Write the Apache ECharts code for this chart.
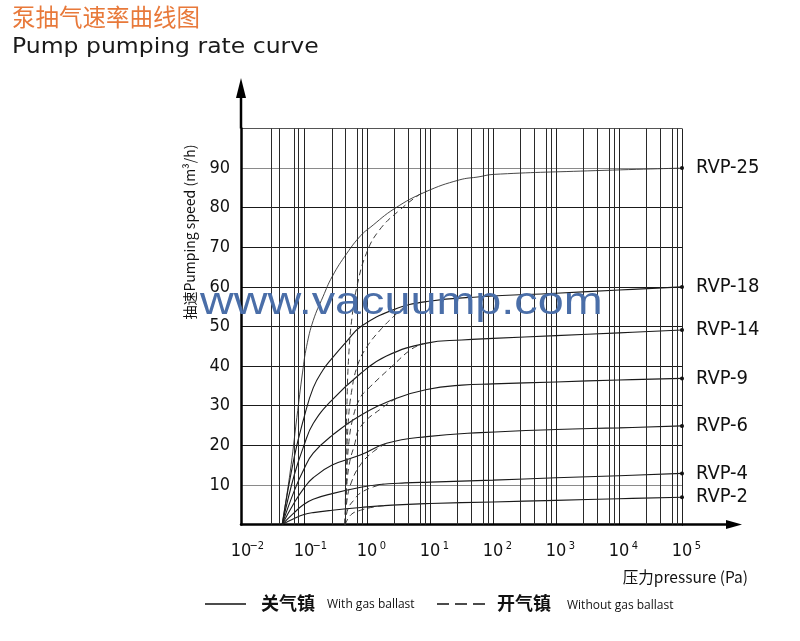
<!DOCTYPE html>
<html><head><meta charset="utf-8">
<script src="https://cdn.jsdelivr.net/npm/echarts@6/dist/echarts.min.js"></script>
<style>html,body{margin:0;padding:0;background:#fff}#c{width:800px;height:641px}</style>
</head><body><div id="c"></div>
<script>
// ---- data: [pressure (Pa), pumping speed (m3/h)] ----
const rvp25Solid = [[0.045,0],[0.06,13],[0.077,27],[0.095,38.5],[0.11,45],[0.14,51.5],[0.2,57.5],[0.28,62.6],[0.48,68.5],[0.8,73],[1.12,75],[2.75,79.8],[8.5,84],[29,87],[60,87.8],[100,88.4],[3200,89.3],[100000,90]];
const rvp18Solid = [[0.045,0],[0.07,17],[0.1,27],[0.14,34.5],[0.2,39],[0.28,42],[0.48,46.3],[0.8,50],[2.6,54.2],[8.9,56.3],[63,57.5],[1000,58.4],[10000,59.2],[100000,60]];
const rvp14Solid = [[0.045,0],[0.07,12.5],[0.1,20],[0.14,25.5],[0.28,31.5],[0.8,38.2],[2,42.5],[8.9,45.8],[32,46.6],[100,47],[1000,47.7],[10000,48.4],[100000,49.1]];
const rvp9Solid  = [[0.045,0],[0.07,8.5],[0.1,14],[0.14,18],[0.28,22.5],[0.8,27.6],[2.95,31.9],[8.9,34.1],[32,35.2],[100,35.5],[1000,36],[10000,36.5],[100000,36.9]];
const rvp6Solid  = [[0.045,0],[0.07,5.5],[0.1,9.2],[0.14,11.8],[0.28,15],[0.8,17.6],[2.04,20.5],[8.9,22.2],[63,23.2],[1000,24],[10000,24.4],[100000,24.9]];
const rvp4Solid  = [[0.045,0],[0.07,3],[0.1,5.1],[0.14,6.4],[0.28,7.8],[0.8,9.4],[1.58,10.1],[4,10.5],[10,10.7],[100,11.2],[1000,11.8],[10000,12.3],[100000,12.9]];
const rvp2Solid  = [[0.045,0],[0.07,1.5],[0.1,2.5],[0.14,3],[0.28,3.6],[0.8,4.3],[2.5,4.9],[10,5.3],[100,5.7],[1000,6.1],[10000,6.5],[100000,6.9]];

const rvp25Dashed = [[0.45,0],[0.46,15],[0.48,30],[0.51,42],[0.575,52],[0.69,60],[0.98,68.5],[1.58,74.4],[3.3,79.4],[7.2,83.6],[8.9,84.2]];
const rvp18Dashed = [[0.45,0],[0.47,12],[0.5,25],[0.575,34],[0.72,40.5],[1,44.9],[1.62,49.1],[2.63,52.5],[3.8,54.8]];
const rvp14Dashed = [[0.45,0],[0.47,10],[0.51,20],[0.6,27],[0.78,32],[1,34],[2.63,40.3],[5,44.2],[7.8,45.7]];
const rvp9Dashed  = [[0.45,0],[0.47,8],[0.52,15],[0.63,20],[0.79,24.7],[1.82,29.7],[2.95,31.9]];
const rvp6Dashed  = [[0.45,0],[0.48,6],[0.56,10.5],[0.78,15],[1.26,18.4],[2.04,20.5]];
const rvp4Dashed  = [[0.45,0],[0.5,4],[0.63,6.3],[0.78,7.9],[1.26,9.5],[1.82,10.2]];
const rvp2Dashed  = [[0.45,0],[0.56,2.5],[0.79,3.6],[1.26,4.4],[2,4.8]];

const modelNames = ['RVP-25','RVP-18','RVP-14','RVP-9','RVP-6','RVP-4','RVP-2'];
const solidCurves = [rvp25Solid, rvp18Solid, rvp14Solid, rvp9Solid, rvp6Solid, rvp4Solid, rvp2Solid];
const dashedCurves = [rvp25Dashed, rvp18Dashed, rvp14Dashed, rvp9Dashed, rvp6Dashed, rvp4Dashed, rvp2Dashed];

const xMinPa = 0.01, xMaxPa = 100000;
const yMin = 0, yMax = 100, yStep = 10;
// extra vertical grid lines inside each decade (multiples of the decade)
const gridMultipliers = [2.75, 4.5, 6.9, 8.4];

// ---- styling ----
const NARROW = '"Liberation Sans Narrow","DejaVu Sans Condensed","Arial Narrow",sans-serif';
const G = {left: 241, right: 118, top: 128.5, bottom: 116.5};

const minorGrid = [];
for (let d = -2; d < 5; d++) for (const m of gridMultipliers) minorGrid.push({xAxis: m * Math.pow(10, d)});

const series = [];
solidCurves.forEach((arr, i) => {
  series.push({
    type: 'line', name: modelNames[i], data: arr, smooth: 0.45,
    showSymbol: false, silent: true, z: 4,
    lineStyle: {color: i === 0 ? '#333' : '#1a1a1a', width: i === 0 ? 0.9 : 1.1},
    endLabel: {show: true, formatter: '{a}', distance: 14, fontSize: 20, fontFamily: NARROW, color: '#111'},
    markPoint: {symbol: 'circle', symbolSize: 4, itemStyle: {color: '#111'}, label: {show: false}, silent: true,
      data: [{coord: arr[arr.length - 1]}]},
    markLine: i === 0 ? {silent: true, symbol: ['none', 'none'], label: {show: false},
      lineStyle: {color: '#2a2a2a', width: 1, type: 'solid'}, emphasis: {disabled: true}, data: minorGrid} : undefined
  });
});
dashedCurves.forEach((arr, i) => {
  series.push({
    type: 'line', name: modelNames[i] + ' dashed', data: arr, smooth: 0.45,
    showSymbol: false, silent: true, z: 4,
    lineStyle: {color: '#3a3a3a', width: 1, type: [6, 4]}
  });
});

const chart = echarts.init(document.getElementById('c'), null, {renderer: 'canvas'});
chart.setOption({
  animation: false,
  backgroundColor: '#fff',
  grid: {left: G.left, right: G.right, top: G.top, bottom: G.bottom, containLabel: false},
  xAxis: {
    type: 'log', logBase: 10, min: xMinPa, max: xMaxPa, splitNumber: 7,
    axisLine: {show: true, onZero: false, lineStyle: {color: '#000', width: 2.5}},
    axisTick: {show: false},
    splitLine: {show: true, lineStyle: {color: '#222', width: 1}},
    axisLabel: {
      margin: 16,
      formatter: v => { const e = Math.round(Math.log10(v)); return '{sp|}{b|10}{s|' + (e < 0 ? '−' + (-e) : e) + '}'; },
      rich: {
        sp: {width: 11},
        b: {fontSize: 18, fontFamily: NARROW, color: '#111', lineHeight: 22},
        s: {fontSize: 11, fontFamily: NARROW, color: '#111', width: 11, align: 'left', verticalAlign: 'top', lineHeight: 22, padding: [0, 0, 10, 0]}
      }
    }
  },
  yAxis: {
    type: 'value', min: yMin, max: yMax, interval: yStep,
    axisLine: {show: true, lineStyle: {color: '#000', width: 2.5}},
    axisTick: {show: false},
    splitLine: {show: true, lineStyle: {color: ['#000', '#8a8a8a', '#1a1a1a', '#1a1a1a', '#1a1a1a', '#1a1a1a', '#1a1a1a', '#1a1a1a', '#1a1a1a', '#8a8a8a', '#555'], width: 1.2}},
    axisLabel: {margin: 11, fontSize: 18, fontFamily: NARROW, color: '#111',
      formatter: v => (v === yMin || v === yMax) ? '' : String(v)}
  },
  series: series,
  graphic: [
    {type: 'text', x: 12, y: 17, style: {text: '泵抽气速率曲线图', fill: '#e8793a', font: '23.5px "Noto Sans CJK SC"', verticalAlign: 'middle', align: 'left'}},
    {type: 'text', x: 12, y: 48, scaleX: 1.12, style: {text: 'Pump pumping rate curve', fill: '#1a1a1a', font: '21px "DejaVu Sans"', verticalAlign: 'middle', align: 'left'}},
    {type: 'text', x: 190, y: 232, rotation: Math.PI / 2, style: {text: '抽速Pumping speed (m³/h)', fill: '#111', font: '14px "Noto Sans CJK SC"', verticalAlign: 'middle', align: 'center'}},
    {type: 'text', x: 748, y: 577, style: {text: '压力pressure (Pa)', fill: '#111', font: '15.5px "Noto Sans CJK SC"', verticalAlign: 'middle', align: 'right'}},
    // axis extensions with arrows
    {type: 'line', shape: {x1: G.left, y1: G.top, x2: G.left, y2: 92}, style: {stroke: '#000', lineWidth: 2.5}},
    {type: 'polygon', shape: {points: [[G.left, 78], [G.left - 5, 98], [G.left + 5, 98]]}, style: {fill: '#000'}},
    {type: 'line', shape: {x1: 800 - G.right, y1: 641 - G.bottom, x2: 730, y2: 641 - G.bottom}, style: {stroke: '#000', lineWidth: 2.5}},
    {type: 'polygon', shape: {points: [[742, 641 - G.bottom], [726, 641 - G.bottom - 4.5], [726, 641 - G.bottom + 4.5]]}, style: {fill: '#000'}},
    // watermark
    {type: 'text', x: 200, y: 304, scaleX: 1.23, z: 100, style: {text: 'www.vacuump.com', fill: '#4a6ea8', font: '38px "Liberation Sans"', verticalAlign: 'middle', align: 'left'}},
    // legend
    {type: 'line', shape: {x1: 205, y1: 604, x2: 246, y2: 604}, style: {stroke: '#111', lineWidth: 1.5}},
    {type: 'text', x: 261, y: 603, style: {text: '关气镇', fill: '#111', font: 'bold 18px "Noto Sans CJK SC"', verticalAlign: 'middle', align: 'left'}},
    {type: 'text', x: 327, y: 605, style: {text: 'With gas ballast', fill: '#111', font: '12px "Open Sans"', verticalAlign: 'middle', align: 'left'}},
    {type: 'line', shape: {x1: 437, y1: 604, x2: 486, y2: 604}, style: {stroke: '#111', lineWidth: 1.5, lineDash: [12, 6]}},
    {type: 'text', x: 497, y: 603, style: {text: '开气镇', fill: '#111', font: 'bold 18px "Noto Sans CJK SC"', verticalAlign: 'middle', align: 'left'}},
    {type: 'text', x: 567, y: 606, style: {text: 'Without gas ballast', fill: '#111', font: '12px "Open Sans"', verticalAlign: 'middle', align: 'left'}}
  ]
});
</script>
</body></html>
